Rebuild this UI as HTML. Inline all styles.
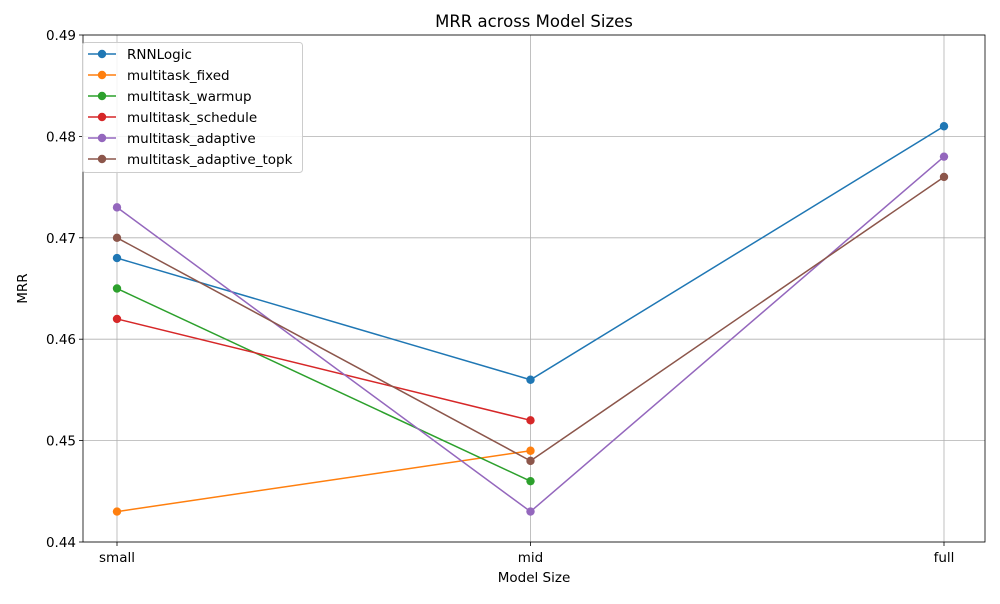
<!DOCTYPE html>
<html><head><meta charset="utf-8"><style>
body{margin:0;background:#fff;font-family:"DejaVu Sans","Liberation Sans",sans-serif;}
</style></head><body>
<svg id="chart" width="1000" height="600" xmlns="http://www.w3.org/2000/svg" font-family="DejaVu Sans, Liberation Sans, sans-serif"></svg>
<script>
const categories = ["small","mid","full"];
const seriesNames = ["RNNLogic","multitask_fixed","multitask_warmup","multitask_schedule","multitask_adaptive","multitask_adaptive_topk"];
const rnnlogic = [0.468,0.456,0.481];
const mtFixed = [0.443,0.449,null];
const mtWarmup = [0.465,0.446,null];
const mtSchedule = [0.462,0.452,null];
const mtAdaptive = [0.473,0.443,0.478];
const mtTopk = [0.470,0.448,0.476];
const yTicks = [0.44,0.45,0.46,0.47,0.48,0.49];
const yTickLabels = ["0.44","0.45","0.46","0.47","0.48","0.49"];
const colors = ["#1f77b4","#ff7f0e","#2ca02c","#d62728","#9467bd","#8c564b"];
const allSeries = [rnnlogic,mtFixed,mtWarmup,mtSchedule,mtAdaptive,mtTopk];

const L=83,R=985,T=35,B=542;
const xScale=i=>117+i*(944-117)/2;
const yScale=v=>B-(v-0.44)/(0.05)*(B-T);
const svg=document.getElementById('chart');
const NS="http://www.w3.org/2000/svg";
function mk(tag,attrs,parent){const e=document.createElementNS(NS,tag);for(const k in attrs)e.setAttribute(k,attrs[k]);(parent||svg).appendChild(e);return e;}

yTicks.forEach((v,i)=>{
  const y=yScale(v);
  const g=mk('line',{x1:L,x2:R,y1:y,y2:y,stroke:'#b0b0b0','stroke-width':0.8});
  
  
  mk('line',{x1:L-4,x2:L,y1:y,y2:y,stroke:'#000','stroke-width':0.8});
  const t=mk('text',{x:L-7,y:y+5,'text-anchor':'end','font-size':13.5});
  t.textContent=yTickLabels[i];
  
  
});
categories.forEach((c,i)=>{
  const x=xScale(i);
  const g=mk('line',{x1:x,x2:x,y1:T,y2:B,stroke:'#b0b0b0','stroke-width':0.8});
  
  
  mk('line',{x1:x,x2:x,y1:B,y2:B+4,stroke:'#000','stroke-width':0.8});
  const t=mk('text',{x:x,y:B+20,'text-anchor':'middle','font-size':13.5});
  t.textContent=c;
  
  
});
allSeries.forEach((s,si)=>{
  const g=mk('g',{});
  
  
  const pts=[];s.forEach((v,i)=>{if(v!==null)pts.push([xScale(i),yScale(v)]);});
  mk('polyline',{points:pts.map(p=>p.join(',')).join(' '),fill:'none',stroke:colors[si],'stroke-width':1.5},g);
  pts.forEach(p=>{
    const c=mk('circle',{cx:p[0],cy:p[1],r:4.2,fill:colors[si]},g);
    
    
  });
});
const fr=mk('rect',{x:L,y:T,width:R-L,height:B-T,fill:'none',stroke:'#000','stroke-width':0.8});


const tt=mk('text',{x:(L+R)/2,y:27,'text-anchor':'middle','font-size':16.5});
tt.textContent='MRR across Model Sizes';


const xt=mk('text',{x:(L+R)/2,y:582,'text-anchor':'middle','font-size':13.5});
xt.textContent='Model Size';


const yt=mk('text',{x:27,y:(T+B)/2,'text-anchor':'middle','font-size':13.5,transform:'rotate(-90 27 '+((T+B)/2)+')'});
yt.textContent='MRR';


const lg=mk('g',{});


mk('rect',{x:82.5,y:42.5,width:220,height:130,rx:3,fill:'#fff','fill-opacity':0.85,stroke:'#ccc'},lg);
seriesNames.forEach((n,i)=>{
  const y=54+i*21;
  const e=mk('g',{},lg);
  
  
  mk('line',{x1:88,x2:116,y1:y,y2:y,stroke:colors[i],'stroke-width':1.5},e);
  mk('circle',{cx:102,cy:y,r:4.2,fill:colors[i]},e);
  const t=mk('text',{x:127,y:y+5,'font-size':13.5},e);
  t.textContent=n;
});
</script>
</body></html>
